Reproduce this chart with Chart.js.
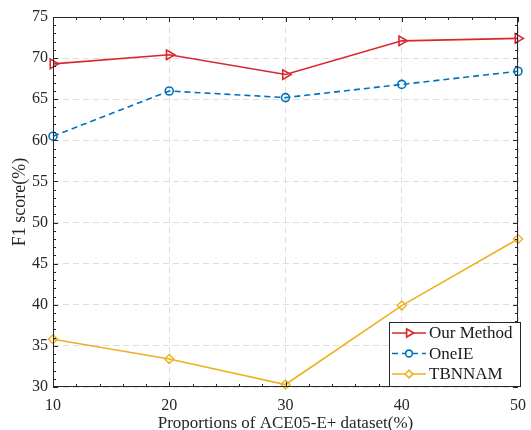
<!DOCTYPE html>
<html>
<head>
<meta charset="utf-8">
<script src="https://cdn.jsdelivr.net/npm/chart.js@4"></script>
<style>
  html, body { margin: 0; padding: 0; background: #fff; }
  #wrap { width: 531px; height: 430px; }
</style>
</head>
<body>
<div id="wrap"><canvas id="chart"></canvas></div>
<script>
// data
const proportions = [10, 20, 30, 40, 50];
const ourMethod = [69.3, 70.4, 68.0, 72.1, 72.4];
const oneIE = [60.5, 66.0, 65.2, 66.8, 68.4];
const tbnnam = [35.8, 33.4, 30.3, 39.9, 48.0];
const xTicks = [10, 20, 30, 40, 50];
const yTicks = [30, 35, 40, 45, 50, 55, 60, 65, 70, 75];

const FONT = "'Liberation Serif', 'Times New Roman', serif";
const RED = '#D9282C';
const BLUE = '#0072BD';
const YELLOW = '#EDB120';

function pts(arr) {
    return arr.map((v, i) => ({ x: proportions[i], y: v }));
}

// box, inward ticks and legend, MATLAB style
const boxPlugin = {
    id: 'boxPlugin',
    afterDatasetsDraw(chart) {
        const { ctx, chartArea: a, scales } = chart;
        const xs = scales.x, ys = scales.y;
        ctx.save();
        ctx.strokeStyle = '#262626';
        ctx.lineWidth = 1;
        ctx.beginPath();
        ctx.rect(a.left + 0.5, a.top + 0.5, a.right - a.left - 1, a.bottom - a.top - 1);
        ctx.stroke();

        ctx.beginPath();
        for (let v = 10; v <= 50; v += 2) {
            const px = Math.round(xs.getPixelForValue(v)) + 0.5;
            const len = v % 10 === 0 ? 5 : 3;
            ctx.moveTo(px, a.bottom); ctx.lineTo(px, a.bottom - len);
            ctx.moveTo(px, a.top); ctx.lineTo(px, a.top + len);
        }
        for (let v = 30; v <= 75; v += 1) {
            const py = Math.round(ys.getPixelForValue(v)) + 0.5;
            const len = v % 5 === 0 ? 5 : 3;
            ctx.moveTo(a.left, py); ctx.lineTo(a.left + len, py);
            ctx.moveTo(a.right, py); ctx.lineTo(a.right - len, py);
        }
        ctx.stroke();

        // legend
        const lx = 389, ly = 322, lw = 131, lh = 64;
        ctx.fillStyle = '#fff';
        ctx.fillRect(lx, ly, lw, lh);
        ctx.strokeStyle = '#262626';
        ctx.strokeRect(lx + 0.5, ly + 0.5, lw, lh);
        ctx.font = '17px ' + FONT;
        ctx.textBaseline = 'middle';
        chart.data.datasets.forEach((ds, i) => {
            const y = ly + 11 + i * 20.5;
            ctx.strokeStyle = ds.borderColor;
            ctx.lineWidth = ds.borderWidth;
            ctx.setLineDash(ds.borderDash || []);
            ctx.beginPath();
            ctx.moveTo(lx + 3, y); ctx.lineTo(lx + 37, y);
            ctx.stroke();
            ctx.setLineDash([]);
            ctx.fillStyle = '#fff';
            Chart.helpers.drawPoint(ctx, {
                pointStyle: ds.pointStyle,
                radius: ds.pointRadius * 0.85,
                rotation: ds.pointRotation || 0,
                borderWidth: ds.pointBorderWidth
            }, lx + 20, y);
            ctx.fillStyle = '#1a1a1a';
            ctx.fillText(ds.label, lx + 40, y + 1);
        });
        ctx.restore();
    }
};

new Chart(document.getElementById('chart'), {
    type: 'line',
    data: {
        datasets: [{
            label: 'Our Method',
            data: pts(ourMethod),
            borderColor: RED,
            backgroundColor: '#fff',
            pointBackgroundColor: 'rgba(255,255,255,0)',
            borderWidth: 1.6,
            pointStyle: 'triangle',
            pointRotation: 90,
            pointRadius: 5.5,
            pointBorderWidth: 1.6
        }, {
            label: 'OneIE',
            data: pts(oneIE),
            borderColor: BLUE,
            backgroundColor: '#fff',
            pointBackgroundColor: 'rgba(255,255,255,0)',
            borderWidth: 1.6,
            borderDash: [6, 4],
            pointStyle: 'circle',
            pointRadius: 4,
            pointBorderWidth: 1.6
        }, {
            label: 'TBNNAM',
            data: pts(tbnnam),
            borderColor: YELLOW,
            backgroundColor: '#fff',
            pointBackgroundColor: 'rgba(255,255,255,0)',
            borderWidth: 1.6,
            pointStyle: 'rectRot',
            pointRadius: 4.5,
            pointBorderWidth: 1.4
        }]
    },
    options: {
        responsive: true,
        maintainAspectRatio: false,
        animation: false,
        clip: false,
        layout: { padding: { top: 17, right: 13, left: 0, bottom: 0 } },
        plugins: { legend: { display: false }, tooltip: { enabled: false } },
        scales: {
            x: {
                type: 'linear',
                min: 10, max: 50,
                afterBuildTicks: s => { s.ticks = xTicks.map(v => ({ value: v })); },
                afterFit: s => { s.height = 43; s.paddingLeft = 0; s.paddingRight = 0; },
                grid: { color: '#dedede', drawTicks: false, lineWidth: 1 },
                border: { display: false, dash: [6, 4] },
                ticks: { color: '#262626', padding: 9, font: { family: FONT, size: 16 }, maxRotation: 0 },
                title: { display: true, text: 'Proportions of ACE05-E+ dataset(%)', color: '#262626',
                         font: { family: FONT, size: 17 }, padding: { top: 0, bottom: -4 } }
            },
            y: {
                min: 30, max: 75,
                afterBuildTicks: s => { s.ticks = yTicks.map(v => ({ value: v })); },
                afterFit: s => { s.width = 53; s.paddingTop = 0; s.paddingBottom = 0; },
                grid: { color: '#dedede', drawTicks: false, lineWidth: 1 },
                border: { display: false, dash: [6, 4] },
                ticks: { color: '#262626', padding: 5, font: { family: FONT, size: 16 } },
                title: { display: true, text: 'F1 score(%)', color: '#262626',
                         font: { family: FONT, size: 18 }, padding: { top: 9, bottom: 0 } }
            }
        }
    },
    plugins: [boxPlugin]
});
</script>
</body>
</html>
